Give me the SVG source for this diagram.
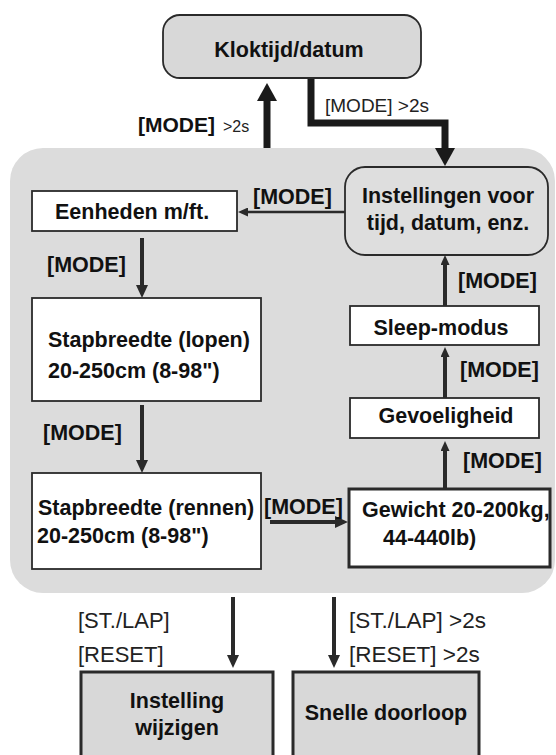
<svg xmlns="http://www.w3.org/2000/svg" width="556" height="755" viewBox="0 0 556 755">
<style>
.bg{fill:#dcdcdc;stroke:none}
.box{fill:#ffffff;stroke:#2a2a2a;stroke-width:1.8}
.gbox{fill:#d8d8d8;stroke:#2a2a2a;stroke-width:1.8}
.thick{stroke-width:3}
.t{font-family:"Liberation Sans",Arial,sans-serif;font-weight:bold;font-size:21.5px;fill:#111}
.r{font-family:"Liberation Sans",Arial,sans-serif;font-weight:normal;font-size:22px;fill:#222}
.c{text-anchor:middle}
.ln{fill:none;stroke:#2a2a2a;stroke-width:4}
.lnb{fill:none;stroke:#1a1a1a;stroke-width:7;stroke-linejoin:miter}
.lns{fill:none;stroke:#2a2a2a;stroke-width:2.5}
</style>
<defs>
<marker id="hBig" viewBox="0 0 18 20" refX="0" refY="10" markerWidth="18" markerHeight="20" orient="auto" markerUnits="userSpaceOnUse"><path d="M0,0 L18,10 L0,20 z" fill="#1a1a1a"/></marker>
<marker id="hMed" viewBox="0 0 13 12" refX="0" refY="6" markerWidth="13" markerHeight="12" orient="auto" markerUnits="userSpaceOnUse"><path d="M0,0 L13,6 L0,12 z" fill="#2a2a2a"/></marker>
<marker id="hSm" viewBox="0 0 10 9" refX="0" refY="4.5" markerWidth="10" markerHeight="9" orient="auto" markerUnits="userSpaceOnUse"><path d="M0,0 L10,4.5 L0,9 z" fill="#2a2a2a"/></marker>
</defs>
<rect class="bg" x="10" y="148" width="545" height="445" rx="33"/>
<g id="connectors">
<line class="lnb" x1="267" y1="148" x2="267" y2="101" marker-end="url(#hBig)"/>
<path class="lnb" d="M311,78 V123 H445 V148" marker-end="url(#hBig)"/>
<line class="lns" x1="345" y1="212" x2="248" y2="212" marker-end="url(#hSm)"/>
<line class="ln" x1="142" y1="238" x2="142" y2="285" marker-end="url(#hMed)"/>
<line class="ln" x1="142" y1="405" x2="142" y2="460" marker-end="url(#hMed)"/>
<line class="ln" x1="270" y1="522" x2="335" y2="522" marker-end="url(#hMed)"/>
<line class="ln" x1="445" y1="489" x2="445" y2="451" marker-end="url(#hSm)"/>
<line class="ln" x1="445" y1="398" x2="445" y2="357" marker-end="url(#hSm)"/>
<line class="ln" x1="445" y1="306" x2="445" y2="265" marker-end="url(#hSm)"/>
<line class="ln" x1="233" y1="597" x2="233" y2="655" marker-end="url(#hMed)"/>
<line class="ln" x1="334" y1="597" x2="334" y2="655" marker-end="url(#hMed)"/>
<text class="t" x="138" y="132" style="font-size:21px">[MODE]<tspan class="r" style="font-size:16px" dx="8">&gt;2s</tspan></text>
<text class="r" x="325" y="112" style="font-size:19px">[MODE] &gt;2s</text>
<text class="t" x="253" y="204">[MODE]</text>
<text class="t" x="47" y="272">[MODE]</text>
<text class="t" x="43" y="440">[MODE]</text>
<text class="t" x="264" y="514">[MODE]</text>
<text class="t" x="463" y="468">[MODE]</text>
<text class="t" x="460" y="377">[MODE]</text>
<text class="t" x="458" y="288">[MODE]</text>
<text class="r" x="78" y="628">[ST./LAP]</text>
<text class="r" x="78" y="662">[RESET]</text>
<text class="r" x="349" y="628" style="font-size:22.5px">[ST./LAP] &gt;2s</text>
<text class="r" x="349" y="662" style="font-size:22.5px">[RESET] &gt;2s</text>
</g>
<g id="klok">
<rect class="gbox" x="163" y="15" width="258" height="63" rx="17"/>
<text class="t c" x="289" y="57">Kloktijd/datum</text>
</g>
<g id="instellingen">
<rect class="gbox" x="345" y="167" width="203" height="88" rx="20" style="fill:#dedede"/>
<text class="t c" x="448" y="203">Instellingen voor</text>
<text class="t c" x="448" y="230">tijd, datum, enz.</text>
</g>
<g id="eenheden">
<rect class="box" x="32" y="191" width="205" height="40"/>
<text class="t" x="55" y="219">Eenheden m/ft.</text>
</g>
<g id="stap-lopen">
<rect class="box" x="32" y="298" width="229" height="103"/>
<text class="t" x="48" y="347">Stapbreedte (lopen)</text>
<text class="t" x="48" y="378">20-250cm (8-98")</text>
</g>
<g id="stap-rennen">
<rect class="box" x="32" y="473" width="229" height="96"/>
<text class="t" x="38" y="515">Stapbreedte (rennen)</text>
<text class="t" x="37" y="543">20-250cm (8-98")</text>
</g>
<g id="gewicht">
<rect class="box thick" x="349" y="489" width="201" height="78"/>
<text class="t" x="362" y="517">Gewicht 20-200kg,</text>
<text class="t" x="383" y="545">44-440lb)</text>
</g>
<g id="gevoeligheid">
<rect class="box" x="350" y="398" width="189" height="40"/>
<text class="t c" x="446" y="423">Gevoeligheid</text>
</g>
<g id="sleep">
<rect class="box" x="350" y="306" width="189" height="39"/>
<text class="t c" x="441" y="335">Sleep-modus</text>
</g>
<g id="instelling-wijzigen">
<rect class="gbox thick" x="81" y="672" width="192" height="100"/>
<text class="t c" x="177" y="708">Instelling</text>
<text class="t c" x="177" y="735">wijzigen</text>
</g>
<g id="snelle-doorloop">
<rect class="gbox thick" x="293" y="672" width="186" height="100"/>
<text class="t c" x="386" y="720">Snelle doorloop</text>
</g>
</svg>
